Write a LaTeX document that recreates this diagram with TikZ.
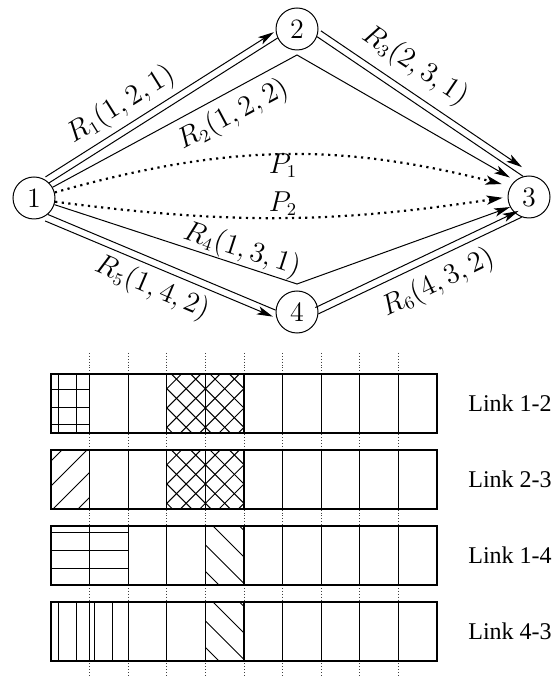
\documentclass[tikz,border=0pt]{standalone}
\usepackage{fontspec}
\newfontfamily\linkfont{Liberation Serif}
\usetikzlibrary{arrows.meta,calc}

\begin{document}
\begin{tikzpicture}[x=0.5pt,y=-0.5pt,
 router/.style={draw,circle,minimum size=21pt,inner sep=0pt,line width=.5pt,font=\fontsize{14}{16}\selectfont},
 linkline/.style={line width=.5pt},
 routeline/.style={line width=.5pt,-{Stealth[length=8pt,width=4.2pt,inset=2pt]}},
 pathline/.style={line width=1.1pt,dash pattern=on 1.1pt off 2.2pt,-{Stealth[length=8pt,width=4.6pt,inset=2pt]}},
 routetag/.style={font=\fontsize{13.5}{16}\selectfont,inner sep=0pt},
 cellrow/.style={line width=.6pt},
 slotline/.style={line width=.45pt,densely dotted,black!75},
 hatch/.style={line width=.5pt},
 linklabel/.style={font=\linkfont\fontsize{12}{14}\selectfont,anchor=west,inner sep=0pt}]
\useasboundingbox[fill=white] (0,0) rectangle (556,688);
% routers
\node[router] (n1) at (34,198) {1};
\node[router] (n2) at (297,29) {2};
\node[router] (n3) at (529,197) {3};
\node[router] (n4) at (297,312) {4};
\coordinate (v2) at (297,55);
\coordinate (v4) at (297,284);
% links and routes
\draw[linkline] (n1.45)--(n2.205);
\draw[routeline] ([shift={(-3.7,-5.9)}]n1.45)--([shift={(-3.7,-5.9)}]n2.205);
\draw[linkline] (n2.-21)--(n3.106);
\draw[routeline,shorten >=3pt] ([shift={(3.9,-5.8)}]n2.-21)--([shift={(3.9,-5.8)}]n3.106);
\draw[linkline] (n1.-50)--(n4.175);
\draw[routeline] ([shift={(-2.7,6.5)}]n1.-50)--([shift={(-2.7,6.5)}]n4.175);
\draw[linkline] (n4.-5)--(n3.250);
\draw[routeline] ([shift={(-3.1,-6.3)}]n4.-5)--([shift={(-3.1,-6.3)}]n3.250);
\draw[routeline,shorten >=3pt] (n1.30)--(v2)--(n3.130);
\draw[routeline] (n1.-18)--(v4)--(n3.208);
\draw[pathline,shorten >=4.5pt] (n1.15) to[bend left=15] (n3.150);
\draw[pathline,shorten >=2.5pt] (n1.-10) to[bend right=8] (n3.180);
% labels
\node[routetag,rotate=32] (tR1) at (121,105) {$R_1(1,2,1)$};
\node[routetag,rotate=28] (tR2) at (233,115) {$R_2(1,2,2)$};
\node[routetag,rotate=-34] (tR3) at (415,66) {$R_3(2,3,1)$};
\node[routetag,rotate=-18] (tR4) at (242,250) {$R_4(1,3,1)$};
\node[routetag,rotate=-23] (tR5) at (152,288) {$R_5(1,4,2)$};
\node[routetag,rotate=26] (tR6) at (438,283) {$R_6(4,3,2)$};
\node[routetag] (tP1) at (283,166) {$P_1$};
\node[routetag] (tP2) at (283,204) {$P_2$};
% slot table
\foreach \k in {1,...,9} \draw[slotline] (51+38.6*\k,353)--(51+38.6*\k,677);
\foreach \r/\lab in {0/1-2,1/2-3,2/1-4,3/4-3}{
  \draw[cellrow,fill=white] (51,374+76*\r) rectangle (437,433+76*\r);
  \foreach \k in {1,...,9} \draw[cellrow] (51+38.6*\k,374+76*\r)--++(0,59);
  \node[linklabel] (link\r) at (468,403.5+76*\r) {Link \lab};
}
% link 1-2 and 2-3: slots 4-5
\foreach \t in {374,450}{
  \begin{scope}
  \clip (166.8,\t) rectangle (244,\t+59);
  \foreach \k in {-4,...,4}{
    \draw[hatch] ({205.4+19.3*\k-70},{\t+34-70})--++(140,140);
    \draw[hatch] ({205.4+19.3*\k-70},{\t+34+70})--++(140,-140);
  }
  \end{scope}
}
% link 1-2: slot 1
\foreach \x in {58,76} \draw[hatch] (\x,374)--(\x,433);
\foreach \y in {389,407,424} \draw[hatch] (51,\y)--(89.6,\y);
% link 2-3: slot 1
\begin{scope}
\clip (51,450) rectangle (89.6,509);
\foreach \k in {-2,...,1} \draw[hatch] ({562+25*\k-529},529)--++(100,-100);
\end{scope}
% link 1-4: slots 1-2
\foreach \y in {532,550,568} \draw[hatch] (51,\y)--(128.2,\y);
% link 4-3: slots 1-2
\foreach \x in {58,76,94,112} \draw[hatch] (\x,602)--(\x,661);
% link 1-4 and 4-3: slot 5
\foreach \t in {526,602}{
  \begin{scope}
  \clip (205.4,\t) rectangle (244,\t+59);
  \foreach \k in {-3,...,1} \draw[hatch] ({213+26.5*\k-30},\t-30)--++(110,110);
  \end{scope}
}
\end{tikzpicture}
\end{document}
